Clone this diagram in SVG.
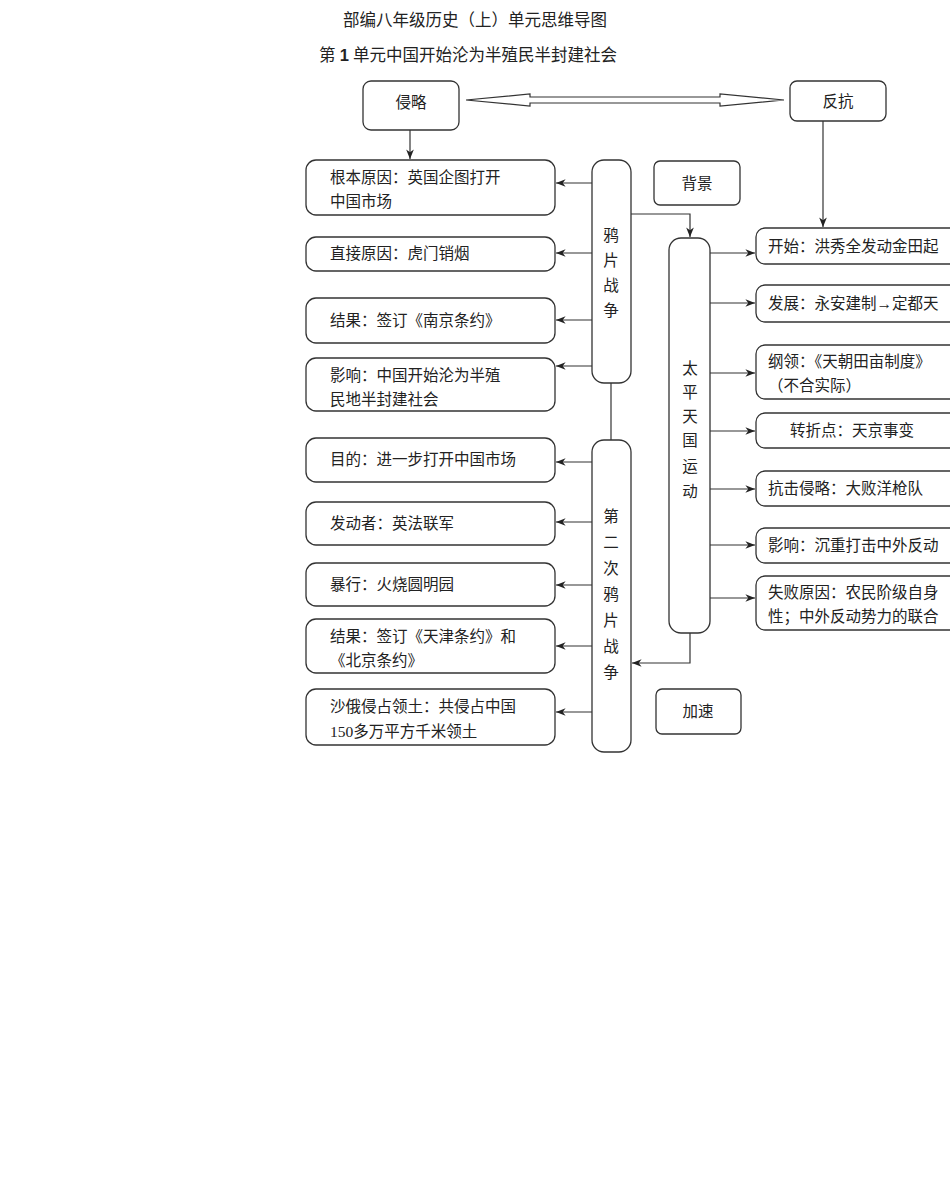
<svg xmlns="http://www.w3.org/2000/svg" width="950" height="1196" viewBox="0 0 950 1196">
<defs>
<style>
text{font-family:"Liberation Serif","Noto Sans CJK SC",serif;font-size:15.5px;fill:#222}
.t{font-size:16.5px}
rect{fill:#fff;stroke:#333;stroke-width:1.3}
.c line,.c path{stroke:#333;stroke-width:1.2;fill:none}
</style>
<marker id="a" viewBox="0 0 10 10" refX="10" refY="5" markerWidth="8" markerHeight="8" orient="auto"><path d="M0,1 L10,5 L0,9 L3,5 z" fill="#222"/></marker>
</defs>
<rect width="950" height="1196" style="fill:#fff;stroke:none"/>
<text class="t" x="475" y="26" text-anchor="middle">部编八年级历史（上）单元思维导图</text>
<text class="t" x="468" y="61" text-anchor="middle">第 <tspan font-weight="bold" font-family="Liberation Sans,sans-serif">1</tspan> 单元中国开始沦为半殖民半封建社会</text>
<g class="c">
<path d="M466,100 L530,94 L530,97 L720,97 L720,94 L784,100 L720,106 L720,103 L530,103 L530,106 Z" style="fill:#fff"/>
<line x1="410" y1="130" x2="410" y2="159" marker-end="url(#a)"/>
<line x1="823" y1="121" x2="823" y2="227" marker-end="url(#a)"/>
<path d="M631,214 H690 V237" marker-end="url(#a)"/>
<path d="M690,633 V663 H632" marker-end="url(#a)"/>
<line x1="611" y1="383" x2="611" y2="440"/>
<line x1="592" y1="183" x2="556" y2="183" marker-end="url(#a)"/>
<line x1="592" y1="253" x2="556" y2="253" marker-end="url(#a)"/>
<line x1="592" y1="320" x2="556" y2="320" marker-end="url(#a)"/>
<line x1="592" y1="366" x2="556" y2="366" marker-end="url(#a)"/>
<line x1="592" y1="462" x2="556" y2="462" marker-end="url(#a)"/>
<line x1="592" y1="522" x2="556" y2="522" marker-end="url(#a)"/>
<line x1="592" y1="585" x2="556" y2="585" marker-end="url(#a)"/>
<line x1="592" y1="646" x2="556" y2="646" marker-end="url(#a)"/>
<line x1="592" y1="712" x2="556" y2="712" marker-end="url(#a)"/>
<line x1="710" y1="253" x2="755" y2="253" marker-end="url(#a)"/>
<line x1="710" y1="303" x2="755" y2="303" marker-end="url(#a)"/>
<line x1="710" y1="373" x2="755" y2="373" marker-end="url(#a)"/>
<line x1="710" y1="431" x2="755" y2="431" marker-end="url(#a)"/>
<line x1="710" y1="489" x2="755" y2="489" marker-end="url(#a)"/>
<line x1="710" y1="545" x2="755" y2="545" marker-end="url(#a)"/>
<line x1="710" y1="598" x2="755" y2="598" marker-end="url(#a)"/>
</g>
<g id="qinlue"><rect x="363" y="81" width="96" height="49" rx="8"/><text x="411" y="108" text-anchor="middle">侵略</text></g>
<g id="fankang"><rect x="790" y="81" width="96" height="40" rx="7"/><text x="838" y="107" text-anchor="middle">反抗</text></g>
<g id="beijing"><rect x="654" y="161" width="86" height="44" rx="6"/><text x="697" y="189" text-anchor="middle">背景</text></g>
<g id="jiasu"><rect x="656" y="689" width="85" height="45" rx="6"/><text x="698" y="717" text-anchor="middle">加速</text></g>
<g id="yapian"><rect x="592" y="160" width="39" height="223" rx="12"/>
<text x="611" y="241" text-anchor="middle">鸦</text><text x="611" y="266" text-anchor="middle">片</text><text x="611" y="291" text-anchor="middle">战</text><text x="611" y="316" text-anchor="middle">争</text></g>
<g id="dier"><rect x="592" y="440" width="39" height="312" rx="12"/>
<text x="611" y="522" text-anchor="middle">第</text><text x="611" y="548" text-anchor="middle">二</text><text x="611" y="574" text-anchor="middle">次</text><text x="611" y="600" text-anchor="middle">鸦</text><text x="611" y="626" text-anchor="middle">片</text><text x="611" y="652" text-anchor="middle">战</text><text x="611" y="678" text-anchor="middle">争</text></g>
<g id="taiping"><rect x="669" y="238" width="41" height="395" rx="12"/>
<text x="690" y="374" text-anchor="middle">太</text><text x="690" y="398" text-anchor="middle">平</text><text x="690" y="422" text-anchor="middle">天</text><text x="690" y="446" text-anchor="middle">国</text><text x="690" y="472" text-anchor="middle">运</text><text x="690" y="497" text-anchor="middle">动</text></g>
<g id="l1"><rect x="306" y="160" width="249" height="55" rx="10"/><text x="330" y="183">根本原因：英国企图打开</text><text x="330" y="207">中国市场</text></g>
<g id="l2"><rect x="306" y="237" width="249" height="34" rx="10"/><text x="330" y="259">直接原因：虎门销烟</text></g>
<g id="l3"><rect x="306" y="298" width="249" height="45" rx="10"/><text x="330" y="326">结果：签订《南京条约》</text></g>
<g id="l4"><rect x="306" y="358" width="249" height="53" rx="10"/><text x="330" y="381">影响：中国开始沦为半殖</text><text x="330" y="405">民地半封建社会</text></g>
<g id="l5"><rect x="306" y="438" width="249" height="44" rx="10"/><text x="330" y="465">目的：进一步打开中国市场</text></g>
<g id="l6"><rect x="306" y="502" width="249" height="43" rx="10"/><text x="330" y="529">发动者：英法联军</text></g>
<g id="l7"><rect x="306" y="563" width="249" height="43" rx="10"/><text x="330" y="590">暴行：火烧圆明园</text></g>
<g id="l8"><rect x="306" y="619" width="249" height="54" rx="10"/><text x="330" y="642">结果：签订《天津条约》和</text><text x="330" y="666">《北京条约》</text></g>
<g id="l9"><rect x="306" y="689" width="249" height="56" rx="10"/><text x="330" y="712">沙俄侵占领土：共侵占中国</text><text x="330" y="737">150多万平方千米领土</text></g>
<g id="r1"><rect x="756" y="228" width="220" height="36" rx="9"/><text x="768" y="252">开始：洪秀全发动金田起</text></g>
<g id="r2"><rect x="756" y="285" width="220" height="37" rx="9"/><text x="768" y="309">发展：永安建制→定都天</text></g>
<g id="r3"><rect x="756" y="345" width="220" height="54" rx="9"/><text x="768" y="367">纲领：《天朝田亩制度》</text><text x="768" y="391">（不合实际）</text></g>
<g id="r4"><rect x="756" y="413" width="220" height="35" rx="9"/><text x="790" y="436">转折点：天京事变</text></g>
<g id="r5"><rect x="756" y="471" width="220" height="35" rx="9"/><text x="768" y="494">抗击侵略：大败洋枪队</text></g>
<g id="r6"><rect x="756" y="528" width="220" height="35" rx="9"/><text x="768" y="551">影响：沉重打击中外反动</text></g>
<g id="r7"><rect x="756" y="576" width="220" height="54" rx="9"/><text x="768" y="598">失败原因：农民阶级自身</text><text x="768" y="622">性；中外反动势力的联合</text></g>
</svg>
